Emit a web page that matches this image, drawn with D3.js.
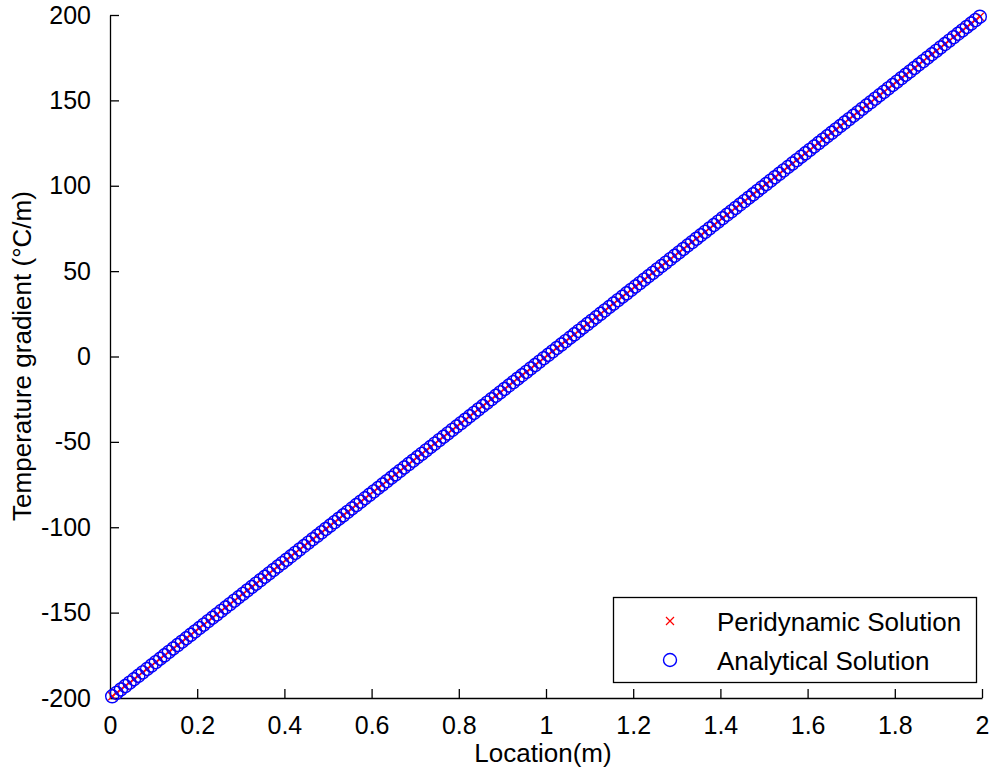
<!DOCTYPE html>
<html>
<head>
<meta charset="utf-8">
<script src="https://cdn.jsdelivr.net/npm/d3@7"></script>
<style>
  html, body { margin: 0; padding: 0; background: #fff; }
  svg { display: block; font-family: "Liberation Sans", Arial, sans-serif; }
</style>
</head>
<body>
<svg id="chart" width="991" height="778"></svg>
<script>
// ---- Data ----
const location_m = [
  0.005,0.015,0.025,0.035,0.045,0.055,0.065,0.075,0.085,0.095,
  0.105,0.115,0.125,0.135,0.145,0.155,0.165,0.175,0.185,0.195,
  0.205,0.215,0.225,0.235,0.245,0.255,0.265,0.275,0.285,0.295,
  0.305,0.315,0.325,0.335,0.345,0.355,0.365,0.375,0.385,0.395,
  0.405,0.415,0.425,0.435,0.445,0.455,0.465,0.475,0.485,0.495,
  0.505,0.515,0.525,0.535,0.545,0.555,0.565,0.575,0.585,0.595,
  0.605,0.615,0.625,0.635,0.645,0.655,0.665,0.675,0.685,0.695,
  0.705,0.715,0.725,0.735,0.745,0.755,0.765,0.775,0.785,0.795,
  0.805,0.815,0.825,0.835,0.845,0.855,0.865,0.875,0.885,0.895,
  0.905,0.915,0.925,0.935,0.945,0.955,0.965,0.975,0.985,0.995,
  1.005,1.015,1.025,1.035,1.045,1.055,1.065,1.075,1.085,1.095,
  1.105,1.115,1.125,1.135,1.145,1.155,1.165,1.175,1.185,1.195,
  1.205,1.215,1.225,1.235,1.245,1.255,1.265,1.275,1.285,1.295,
  1.305,1.315,1.325,1.335,1.345,1.355,1.365,1.375,1.385,1.395,
  1.405,1.415,1.425,1.435,1.445,1.455,1.465,1.475,1.485,1.495,
  1.505,1.515,1.525,1.535,1.545,1.555,1.565,1.575,1.585,1.595,
  1.605,1.615,1.625,1.635,1.645,1.655,1.665,1.675,1.685,1.695,
  1.705,1.715,1.725,1.735,1.745,1.755,1.765,1.775,1.785,1.795,
  1.805,1.815,1.825,1.835,1.845,1.855,1.865,1.875,1.885,1.895,
  1.905,1.915,1.925,1.935,1.945,1.955,1.965,1.975,1.985,1.995
];
const peridynamic = [
  -199,-197,-195,-193,-191,-189,-187,-185,-183,-181,
  -179,-177,-175,-173,-171,-169,-167,-165,-163,-161,
  -159,-157,-155,-153,-151,-149,-147,-145,-143,-141,
  -139,-137,-135,-133,-131,-129,-127,-125,-123,-121,
  -119,-117,-115,-113,-111,-109,-107,-105,-103,-101,
  -99,-97,-95,-93,-91,-89,-87,-85,-83,-81,
  -79,-77,-75,-73,-71,-69,-67,-65,-63,-61,
  -59,-57,-55,-53,-51,-49,-47,-45,-43,-41,
  -39,-37,-35,-33,-31,-29,-27,-25,-23,-21,
  -19,-17,-15,-13,-11,-9,-7,-5,-3,-1,
  1,3,5,7,9,11,13,15,17,19,
  21,23,25,27,29,31,33,35,37,39,
  41,43,45,47,49,51,53,55,57,59,
  61,63,65,67,69,71,73,75,77,79,
  81,83,85,87,89,91,93,95,97,99,
  101,103,105,107,109,111,113,115,117,119,
  121,123,125,127,129,131,133,135,137,139,
  141,143,145,147,149,151,153,155,157,159,
  161,163,165,167,169,171,173,175,177,179,
  181,183,185,187,189,191,193,195,197,199
];
const analytical = [
  -199,-197,-195,-193,-191,-189,-187,-185,-183,-181,
  -179,-177,-175,-173,-171,-169,-167,-165,-163,-161,
  -159,-157,-155,-153,-151,-149,-147,-145,-143,-141,
  -139,-137,-135,-133,-131,-129,-127,-125,-123,-121,
  -119,-117,-115,-113,-111,-109,-107,-105,-103,-101,
  -99,-97,-95,-93,-91,-89,-87,-85,-83,-81,
  -79,-77,-75,-73,-71,-69,-67,-65,-63,-61,
  -59,-57,-55,-53,-51,-49,-47,-45,-43,-41,
  -39,-37,-35,-33,-31,-29,-27,-25,-23,-21,
  -19,-17,-15,-13,-11,-9,-7,-5,-3,-1,
  1,3,5,7,9,11,13,15,17,19,
  21,23,25,27,29,31,33,35,37,39,
  41,43,45,47,49,51,53,55,57,59,
  61,63,65,67,69,71,73,75,77,79,
  81,83,85,87,89,91,93,95,97,99,
  101,103,105,107,109,111,113,115,117,119,
  121,123,125,127,129,131,133,135,137,139,
  141,143,145,147,149,151,153,155,157,159,
  161,163,165,167,169,171,173,175,177,179,
  181,183,185,187,189,191,193,195,197,199
];
const xTicks = [0, 0.2, 0.4, 0.6, 0.8, 1, 1.2, 1.4, 1.6, 1.8, 2];
const xTickLabels = ["0","0.2","0.4","0.6","0.8","1","1.2","1.4","1.6","1.8","2"];
const yTicks = [-200, -150, -100, -50, 0, 50, 100, 150, 200];
const yTickLabels = ["-200","-150","-100","-50","0","50","100","150","200"];
const seriesNames = ["Peridynamic Solution", "Analytical Solution"];
const xLabel = "Location(m)";
const yLabel = "Temperature gradient (\u00B0C/m)";

// ---- Layout ----
const svg = d3.select("#chart");
const plotL = 110, plotR = 982, plotT = 15, plotB = 698;
const tickFont = 25;
const labelFont = 26;
const tickLen = 9;

const x = d3.scaleLinear().domain([0, 2]).range([plotL, plotR]);
const y = d3.scaleLinear().domain([-200, 200]).range([plotB, plotT]);

// Axes (MATLAB style, inward ticks, no box)
const xAxis = d3.axisBottom(x).tickValues(xTicks)
  .tickFormat((d, i) => xTickLabels[i])
  .tickSizeInner(-tickLen).tickSizeOuter(0).tickPadding(tickLen + 9);
const yAxis = d3.axisLeft(y).tickValues(yTicks)
  .tickFormat((d, i) => yTickLabels[i])
  .tickSizeInner(-tickLen).tickSizeOuter(0).tickPadding(tickLen + 10);

const gx = svg.append("g").attr("transform", `translate(0,${plotB})`).call(xAxis);
const gy = svg.append("g").attr("transform", `translate(${plotL},0)`).call(yAxis);
[gx, gy].forEach(g => {
  g.select(".domain").attr("stroke", "#000").attr("stroke-width", 1.3);
  g.selectAll(".tick line").attr("stroke", "#000").attr("stroke-width", 1.3);
  g.selectAll(".tick text").attr("fill", "#000")
    .style("font-size", tickFont + "px")
    .style("font-family", "'Liberation Sans', Arial, sans-serif");
});

// Axis labels
svg.append("text").attr("x", 543).attr("y", 762)
  .attr("text-anchor", "middle").style("font-size", labelFont + "px")
  .attr("fill", "#000").text(xLabel);
svg.append("text")
  .attr("transform", `translate(31,${356}) rotate(-90)`)
  .attr("text-anchor", "middle").style("font-size", labelFont + "px")
  .attr("fill", "#000").text(yLabel);

// Markers
const crossR = 4;
const circR = 6.5;
function crossPath(cx, cy, r) {
  return `M${cx - r},${cy - r}L${cx + r},${cy + r}M${cx - r},${cy + r}L${cx + r},${cy - r}`;
}

svg.append("g").selectAll("path")
  .data(location_m.map((d, i) => [d, peridynamic[i]]))
  .join("path")
  .attr("d", d => crossPath(x(d[0]), y(d[1]), crossR))
  .attr("stroke", "#ff0000").attr("stroke-width", 1.2).attr("fill", "none");

svg.append("g").selectAll("circle")
  .data(location_m.map((d, i) => [d, analytical[i]]))
  .join("circle")
  .attr("cx", d => x(d[0])).attr("cy", d => y(d[1])).attr("r", circR)
  .attr("stroke", "#0000ff").attr("stroke-width", 1.4).attr("fill", "none");

// Legend
const lg = svg.append("g");
lg.append("rect").attr("x", 613.5).attr("y", 597.5).attr("width", 363).attr("height", 85)
  .attr("fill", "#fff").attr("stroke", "#000").attr("stroke-width", 1.3);
lg.append("path").attr("d", crossPath(670, 621, crossR))
  .attr("stroke", "#ff0000").attr("stroke-width", 1.2).attr("fill", "none");
lg.append("circle").attr("cx", 670).attr("cy", 660).attr("r", circR)
  .attr("stroke", "#0000ff").attr("stroke-width", 1.4).attr("fill", "none");
lg.append("text").attr("x", 717).attr("y", 631).style("font-size", labelFont + "px")
  .attr("fill", "#000").text(seriesNames[0]);
lg.append("text").attr("x", 717).attr("y", 670).style("font-size", labelFont + "px")
  .attr("fill", "#000").text(seriesNames[1]);
</script>
</body>
</html>
